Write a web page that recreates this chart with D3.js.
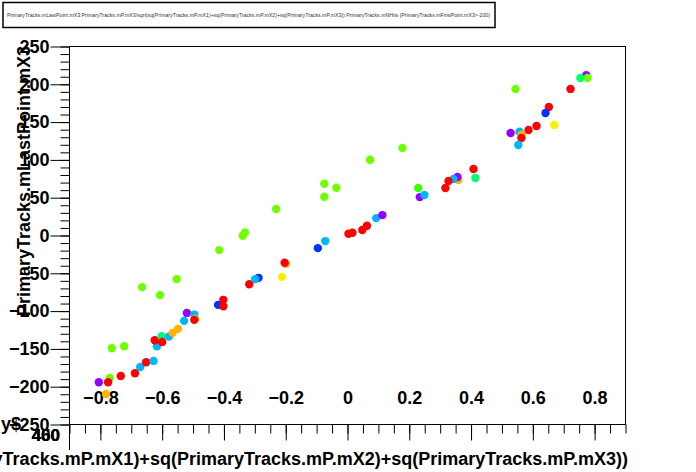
<!DOCTYPE html>
<html><head><meta charset="utf-8">
<script src="https://cdn.jsdelivr.net/npm/d3@7"></script>
<style>
body{margin:0;background:#fff;}
svg{display:block;}
text{font-family:"Liberation Sans",Arial,sans-serif;font-weight:bold;fill:#000;}
</style></head>
<body>
<svg id="c" width="696" height="472"></svg>
<script>
// ---- data ----
const titleText = "PrimaryTracks.mLastPoint.mX3:PrimaryTracks.mP.mX3/sqrt(sq(PrimaryTracks.mP.mX1)+sq(PrimaryTracks.mP.mX2)+sq(PrimaryTracks.mP.mX3)):PrimaryTracks.mNHits {PrimaryTracks.mFirstPoint.mX3>-200}";
const xTitle = "PrimaryTracks.mP.mX3/sqrt(sq(PrimaryTracks.mP.mX1)+sq(PrimaryTracks.mP.mX2)+sq(PrimaryTracks.mP.mX3))";
const yTitle = "PrimaryTracks.mLastPoint.mX3";
const xTickLabels = [-0.8, -0.6, -0.4, -0.2, 0, 0.2, 0.4, 0.6, 0.8];
const yTickLabels = [-250, -200, -150, -100, -50, 0, 50, 100, 150, 200, 250];
const extraLabels = ["400", "450", "460"];
const palette = ["#9400ff", "#0033ff", "#00b4ff", "#00ff70", "#3cff00", "#6eff00", "#ffee00", "#ffb400", "#ff0000"];
// color index: 0 purple,1 blue,2 cyan,3 green-cyan,4 green,5 yellow-green,6 yellow,7 orange,8 red
const px = [-0.332,-0.339,-0.415,-0.665,-0.553,-0.607,-0.763,-0.723,-0.770,-0.805,-0.775,-0.782,-0.734,-0.688,-0.671,-0.652,-0.628,-0.617,-0.624,-0.602,-0.600,-0.578,-0.566,-0.549,-0.529,-0.520,-0.496,-0.493,-0.496,-0.419,-0.402,-0.402,-0.318,-0.288,-0.299,-0.212,-0.199,-0.2035,-0.096,-0.072,0.003,0.016,0.048,0.063,0.073,-0.075,-0.036,-0.075,-0.231,0.093,0.113,0.773,0.754,0.777,0.544,0.722,0.652,0.641,0.670,0.612,0.586,0.557,0.564,0.528,0.563,0.553,0.178,0.408,0.414,0.359,0.356,0.343,0.327,0.317,0.229,0.234,0.249];
const py = [4.0,-0.4,-19.3,-68.3,-57.7,-78.9,-149.1,-146.5,-188.4,-194.1,-194.1,-209.6,-185.8,-182.2,-173.9,-167.6,-165.9,-146.5,-138.5,-133.2,-140.8,-133.7,-128.8,-123.5,-112.9,-102.4,-104.6,-110.3,-111.6,-91.8,-85.1,-93.5,-64.4,-56.0,-57.7,-54.7,-37.5,-36.1,-16.7,-7.4,2.3,3.6,7.2,12.8,100.2,68.5,63.2,51.2,35.0,23.0,27.0,211.9,208.4,208.4,193.9,193.9,170.0,162.1,146.2,144.9,139.6,137.3,133.3,135.6,129.0,119.7,115.7,87.9,76.0,73.4,77.3,74.7,72.0,62.8,62.8,50.8,53.5];
const pc = [5,5,5,5,5,5,5,5,5,0,8,7,8,8,2,8,2,2,8,3,8,2,7,7,2,0,2,7,8,1,8,8,8,1,2,6,7,8,1,2,8,8,8,8,5,5,5,5,5,2,0,0,3,5,5,8,8,1,6,8,8,2,7,0,8,2,5,8,3,7,0,2,8,8,4,0,2];

// ---- drawing ----
const svg = d3.select("#c");
const x = d3.scaleLinear().domain([-0.9, 0.9]).range([69.5, 625.5]);
const y = d3.scaleLinear().domain([-250, 250]).range([424.5, 46.5]);
const fmtX = d => d === 0 ? "0" : d3.format(".1f")(d);
const FS = 18;

// title box
svg.append("rect").attr("x", 3).attr("y", 2.5).attr("width", 492).attr("height", 25)
  .attr("fill", "#fff").attr("stroke", "#000").attr("stroke-width", 1.5);
svg.append("text").attr("x", 7).attr("y", 16.5).attr("font-size", 4.5)
  .attr("textLength", 483).attr("lengthAdjust", "spacingAndGlyphs")
  .style("font-weight", "normal").style("fill", "#333").text(titleText);

// frame
svg.append("rect").attr("x", x(-0.9)).attr("y", y(250))
  .attr("width", x(0.9) - x(-0.9)).attr("height", y(-250) - y(250))
  .attr("fill", "none").attr("stroke", "#000").attr("stroke-width", 1);
svg.append("line").attr("x1", 69.5).attr("x2", 69.5).attr("y1", y(-250)).attr("y2", 450)
  .attr("stroke", "#000");

// y axis minor
const yMinor = d3.range(-25, 26).map(i => i * 10);
svg.append("g").attr("transform", "translate(69.5,0)")
  .call(d3.axisLeft(y).tickValues(yMinor).tickSize(9).tickFormat(""))
  .call(g => g.select(".domain").remove());
// y axis major
const ya = svg.append("g").attr("transform", "translate(69.5,0)")
  .call(d3.axisLeft(y).tickValues(yTickLabels).tickSize(19).tickPadding(1).tickFormat(d3.format("d")))
  .call(g => g.select(".domain").remove());
ya.selectAll("text").attr("font-size", FS).attr("font-family", null).style("fill", "#000");
ya.selectAll("line").attr("stroke", "#000");

// x axis minor
const xMinor = d3.range(-18, 19).map(i => i * 0.05);
svg.append("g").attr("transform", "translate(0,424.5)")
  .call(d3.axisBottom(x).tickValues(xMinor).tickSize(9).tickFormat(""))
  .call(g => g.select(".domain").remove());
// x axis major (labels drawn above the axis, as in the reference)
const xa = svg.append("g").attr("transform", "translate(0,424.5)")
  .call(d3.axisBottom(x).tickValues(xTickLabels).tickSize(16).tickFormat(fmtX))
  .call(g => g.select(".domain").remove());
xa.selectAll("text").attr("y", -21).attr("dy", 0).attr("font-size", FS).attr("font-family", null).style("fill", "#000");

// stray labels
svg.append("text").attr("x", 21).attr("y", 430).attr("font-size", FS).attr("text-anchor", "end").text("y$");
extraLabels.forEach(t => svg.append("text").attr("x", 60).attr("y", 441)
  .attr("font-size", 17).attr("text-anchor", "end").text(t));

// axis titles
svg.append("text").attr("x", 628).attr("y", 465).attr("font-size", FS)
  .attr("text-anchor", "end").text(xTitle);
svg.append("text").attr("transform", "translate(30,46) rotate(-90)").attr("font-size", FS)
  .attr("text-anchor", "end").text(yTitle);

// points
svg.append("g").selectAll("circle").data(px.map((v, i) => i)).join("circle")
  .attr("cx", i => x(px[i])).attr("cy", i => y(py[i])).attr("r", 4.2)
  .attr("fill", i => palette[pc[i]]);
</script>
</body></html>
